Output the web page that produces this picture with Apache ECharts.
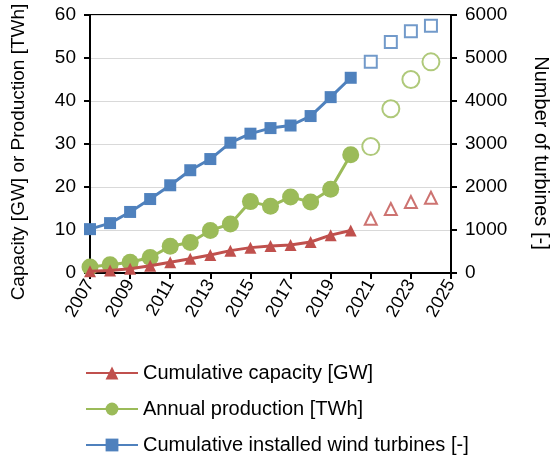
<!DOCTYPE html>
<html>
<head>
<meta charset="utf-8">
<script src="https://cdn.jsdelivr.net/npm/echarts@6/dist/echarts.min.js"></script>
<style>
  html, body { margin: 0; padding: 0; background: #fff; }
  #chart { width: 559px; height: 462px; }
</style>
</head>
<body>
<div id="chart"></div>
<script>
// years on the x axis (2025 is only there as the last tick)
const years = ['2007','2008','2009','2010','2011','2012','2013','2014','2015','2016','2017','2018','2019','2020','2021','2022','2023','2024','2025']

// measured values 2007-2020
const capacity = [0.4, 0.6, 1.0, 1.7, 2.5, 3.3, 4.2, 5.2, 5.9, 6.3, 6.5, 7.2, 8.8, 9.9]
const production = [1.4, 1.9, 2.5, 3.6, 6.2, 7.1, 9.9, 11.4, 16.6, 15.5, 17.7, 16.5, 19.5, 27.5]
const turbines = [1020, 1160, 1420, 1720, 2040, 2390, 2650, 3030, 3240, 3370, 3430, 3650, 4090, 4540]

// projected values 2021-2024 (hollow markers)
const capacityProj = [12.6, 14.9, 16.5, 17.5]
const productionProj = [29.4, 38.2, 45.0, 49.1]
const turbinesProj = [4910, 5370, 5620, 5750]

const red = '#c0504d'
const green = '#9bbb59'
const blue = '#4f81bd'
const font = 'Liberation Sans'

// pad a list out to the full year axis
function measured(arr) {
  return years.map((y, i) => (i < arr.length ? arr[i] : null))
}
function projected(arr) {
  const start = years.indexOf('2021')
  return years.map((y, i) => (i >= start && i - start < arr.length ? arr[i - start] : null))
}

const chart = echarts.init(document.getElementById('chart'))

const option = {
  animation: false,
  textStyle: { fontFamily: font, color: '#000' },
  grid: {
    left: 90, right: 105, top: 15, bottom: 189,
    show: true, borderColor: '#000', borderWidth: 2
  },
  legend: {
    orient: 'vertical',
    left: 85,
    top: 363,
    padding: 0,
    itemGap: 16,
    itemWidth: 52,
    itemHeight: 16,
    data: ['Cumulative capacity [GW]', 'Annual production [TWh]', 'Cumulative installed wind turbines [-]'],
    textStyle: { fontFamily: font, fontSize: 20, color: '#000' }
  },
  xAxis: {
    type: 'category',
    data: years,
    boundaryGap: false,
    axisLine: { lineStyle: { color: '#000', width: 2 } },
    axisTick: { interval: 1, length: 6, lineStyle: { color: '#000', width: 2 } },
    axisLabel: { interval: 1, rotate: 60, fontSize: 18, color: '#000', margin: 8 },
    splitLine: { show: false }
  },
  yAxis: [
    {
      type: 'value',
      min: 0, max: 60, interval: 10,
      name: 'Capacity [GW] or Production [TWh]',
      nameLocation: 'middle',
      nameGap: 62,
      nameTextStyle: { fontSize: 19, color: '#000', padding: [0, 16, 0, 0] },
      axisLine: { show: true, lineStyle: { color: '#000', width: 2 } },
      axisTick: { show: true, length: 6, lineStyle: { color: '#000', width: 2 } },
      axisLabel: { fontSize: 19, color: '#000', margin: 14 },
      splitLine: { lineStyle: { color: '#d9d9d9', width: 1 } }
    },
    {
      type: 'value',
      min: 0, max: 6000, interval: 1000,
      name: 'Number of turbines [-]',
      nameLocation: 'middle',
      nameRotate: -90,
      nameGap: 80,
      nameTextStyle: { fontSize: 20, color: '#000', padding: [0, 0, 0, 18] },
      axisLine: { show: true, lineStyle: { color: '#000', width: 2 } },
      axisTick: { show: true, length: 6, lineStyle: { color: '#000', width: 2 } },
      axisLabel: { fontSize: 19, color: '#000', margin: 14, formatter: v => String(v) },
      splitLine: { show: false }
    }
  ],
  series: [
    {
      name: 'Cumulative capacity [GW]',
      type: 'line',
      data: measured(capacity),
      symbol: 'triangle',
      symbolSize: 12,
      showAllSymbol: true,
      itemStyle: { color: red },
      lineStyle: { color: red, width: 3 },
      z: 4
    },
    {
      name: 'Annual production [TWh]',
      type: 'line',
      data: measured(production),
      symbol: 'circle',
      symbolSize: 17,
      showAllSymbol: true,
      itemStyle: { color: green },
      lineStyle: { color: green, width: 3 },
      z: 3
    },
    {
      name: 'Cumulative installed wind turbines [-]',
      type: 'line',
      yAxisIndex: 1,
      data: measured(turbines),
      symbol: 'rect',
      symbolSize: 12,
      showAllSymbol: true,
      itemStyle: { color: blue },
      lineStyle: { color: blue, width: 3 },
      z: 2
    },
    {
      name: 'capacity projection',
      type: 'scatter',
      data: projected(capacityProj),
      symbol: 'emptyTriangle',
      symbolSize: 12,
      itemStyle: { color: red, borderColor: red, borderWidth: 1.5 }
    },
    {
      name: 'production projection',
      type: 'scatter',
      data: projected(productionProj),
      symbol: 'emptyCircle',
      symbolSize: 17,
      itemStyle: { color: green, borderColor: green, borderWidth: 1.5 }
    },
    {
      name: 'turbines projection',
      type: 'scatter',
      yAxisIndex: 1,
      data: projected(turbinesProj),
      symbol: 'emptyRect',
      symbolSize: 12,
      itemStyle: { color: blue, borderColor: blue, borderWidth: 1.5 }
    }
  ]
}

chart.setOption(option)
</script>
</body>
</html>
